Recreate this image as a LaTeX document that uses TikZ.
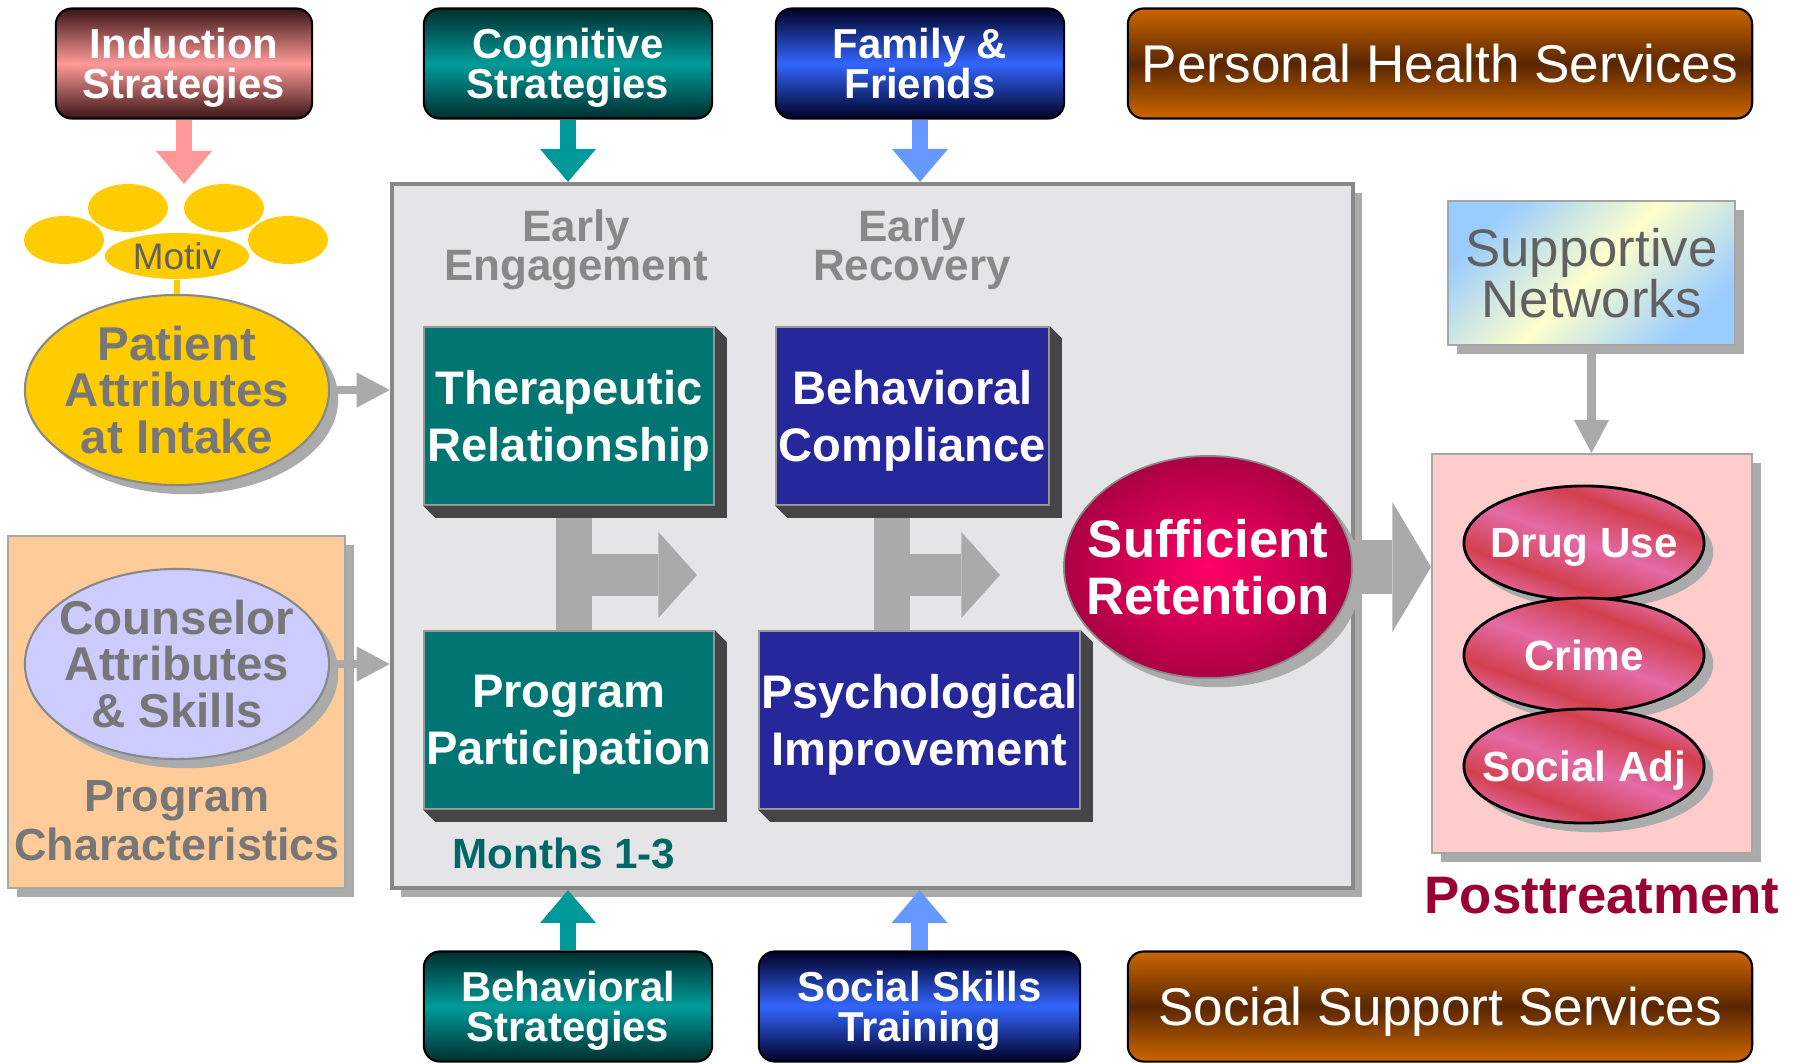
\documentclass[tikz,border=0pt]{standalone}
\usepackage{fontspec}
\setmainfont{Liberation Sans}
\usetikzlibrary{positioning,calc,shapes.geometric,shadows,arrows.meta}
\lineskiplimit=-50pt

\definecolor{inducdark}{HTML}{3A1414}
\definecolor{inducpink}{HTML}{FF9A9A}
\definecolor{tealdark}{HTML}{002E2E}
\definecolor{teallight}{HTML}{009C99}
\definecolor{bluedark}{HTML}{000024}
\definecolor{bluelight}{HTML}{3366FF}
\definecolor{svcorange}{HTML}{CC6600}
\definecolor{svcbrown}{HTML}{5A2600}
\definecolor{boxteal}{HTML}{017572}
\definecolor{boxnavy}{HTML}{27279C}
\definecolor{marble}{HTML}{E5E5E8}
\definecolor{framegray}{HTML}{888888}
\definecolor{shadowgray}{HTML}{ABABAB}
\definecolor{bevelgray}{HTML}{454545}
\definecolor{gold}{HTML}{FFCC00}
\definecolor{lilac}{HTML}{CCCCFF}
\definecolor{peach}{HTML}{FFCC99}
\definecolor{blush}{HTML}{FFCCCC}
\definecolor{postred}{HTML}{990033}
\definecolor{monthteal}{HTML}{006666}
\definecolor{graytext}{HTML}{777777}
\definecolor{earlygray}{HTML}{888888}
\definecolor{arrowpink}{HTML}{FF9999}
\definecolor{arrowteal}{HTML}{009999}
\definecolor{arrowblue}{HTML}{6699FF}
\definecolor{arrowgray}{HTML}{AAAAAA}
\definecolor{retin}{HTML}{FF0066}
\definecolor{retout}{HTML}{7A0030}
\definecolor{netyellow}{HTML}{FFFFCC}
\definecolor{netblue}{HTML}{99CCFF}
\definecolor{outpink}{HTML}{E46AA6}
\definecolor{outred}{HTML}{D2404E}

\pgfdeclarehorizontalshading{netshade}{100bp}{color(0bp)=(netblue); color(25bp)=(netblue); color(50bp)=(netyellow); color(75bp)=(netblue); color(100bp)=(netblue)}
\pgfdeclareverticalshading{outshade}{100bp}{color(0bp)=(outpink); color(25bp)=(outpink); color(35bp)=(outred); color(50bp)=(outpink); color(65bp)=(outred); color(75bp)=(outpink); color(100bp)=(outpink)}
\pgfdeclareradialshading{retshade}{\pgfpoint{0bp}{0bp}}{color(0bp)=(retin); color(40bp)=(retout); color(50bp)=(retout)}

\tikzset{
  cardbox/.style={rectangle, rounded corners=4.5pt, draw=black, line width=0.6pt, minimum width=2.88cm, minimum height=1.1cm, inner sep=0pt, text depth=0pt, align=center, text=white, font=\bfseries\fontsize{11.9}{11.4}\selectfont},
  pinkcard/.style={cardbox, top color=inducdark, bottom color=inducdark, middle color=inducpink},
  tealcard/.style={cardbox, top color=tealdark, bottom color=tealdark, middle color=teallight},
  bluecard/.style={cardbox, top color=bluedark, bottom color=bluedark, middle color=bluelight},
  svccard/.style={cardbox, minimum width=6.24cm, top color=svcorange, bottom color=svcorange, middle color=svcbrown, font=\fontsize{15.1}{18}\selectfont},
  softshadow/.style={drop shadow={shadow xshift=2.6pt, shadow yshift=-2.6pt, fill=shadowgray, opacity=1}},
  marblebox/.style={rectangle, fill=marble, draw=framegray, line width=1.1pt, minimum width=9.61cm, minimum height=7.04cm, inner sep=0pt, softshadow},
  stagelabel/.style={align=center, text=earlygray, inner sep=0pt, text depth=0pt, font=\bfseries\fontsize{12.5}{11.1}\selectfont},
  stagebox/.style={rectangle, draw=black!40, line width=0.4pt, inner sep=0pt, text depth=0pt, minimum width=2.9cm, minimum height=1.78cm, align=center, text=white, font=\bfseries\fontsize{13.4}{16.2}\selectfont},
  bevel/.style={fill=bevelgray},
  retnode/.style={ellipse, shade, shading=retshade, draw=framegray, line width=0.5pt, minimum width=2.88cm, minimum height=2.22cm, inner xsep=-6pt, inner ysep=0pt, align=center, text=white, font=\bfseries\fontsize{15}{16.2}\selectfont, softshadow},
  motivblob/.style={ellipse, fill=gold, inner sep=0pt, minimum width=0.8cm, minimum height=0.48cm},
  attrnode/.style={ellipse, draw=framegray, line width=0.6pt, minimum width=3.04cm, minimum height=1.9cm, inner xsep=-4pt, inner ysep=-2pt, align=center, text=graytext, font=\bfseries\fontsize{13.5}{13.2}\selectfont, softshadow},
  plainbox/.style={rectangle, draw=black!35, line width=0.5pt, inner sep=0pt, softshadow},
  graylabel/.style={align=center, text=graytext, inner sep=0pt, font=\bfseries\fontsize{12.8}{14}\selectfont},
  netbox/.style={rectangle, shade, shading=netshade, shading angle=-45, draw=black!35, line width=0.5pt, minimum width=2.87cm, minimum height=1.44cm, inner sep=0pt, align=center, text=black!62, font=\fontsize{15}{14.4}\selectfont, softshadow},
  outnode/.style={ellipse, shade, shading=outshade, shading angle=-20, draw=black, line width=0.8pt, minimum width=2.4cm, minimum height=1.14cm, inner xsep=-6pt, inner ysep=0pt, text depth=0pt, text=white, font=\bfseries\fontsize{12}{14}\selectfont, softshadow},
  feed/.style={line width=4.8pt, -{Triangle[width=16pt,length=9.4pt,line width=0pt]}},
  sidearrow/.style={color=arrowgray, line width=2.4pt, -{Triangle[width=10pt,length=9.4pt,line width=0pt]}},
  bigarrow/.style={color=arrowgray, line width=15.6pt, -{Triangle[width=37pt,length=11pt,line width=0pt]}},
  ebar/.style={color=arrowgray, line width=10pt},
  earrow/.style={color=arrowgray, line width=11.7pt, -{Triangle[width=24.5pt,length=11pt,line width=0pt]}}
}

\begin{document}
\begin{tikzpicture}[x=0.01cm, y=-0.01cm]
      \useasboundingbox (0,0) rectangle (1801,1063);
      \fill[white] (0,0) rectangle (1801,1063);

      \node[pinkcard, minimum width=2.56cm] (induct) at (184,63.5) {Induction\\Strategies};
      \node[tealcard] (cogn) at (568,63.5) {Cognitive\\Strategies};
      \node[bluecard] (family) at (920,63.5) {Family \&\\Friends};
      \node[svccard] (phs) at (1440,63.5) {Personal Health Services};

      \node[marblebox] (main) at (872.5,536) {};
      \node[stagelabel] (early1) at (576,245) {Early\\Engagement};
      \node[stagelabel] (early2) at (912,245) {Early\\Recovery};
      \node[stagebox, fill=boxteal] (ther) at (569,416) {Therapeutic\\Relationship};
      \node[stagebox, fill=boxnavy, minimum width=2.73cm] (beh) at (912.5,416) {Behavioral\\Compliance};
      \node[stagebox, fill=boxteal] (prog) at (569,720) {Program\\Participation};
      \node[stagebox, fill=boxnavy, minimum width=3.21cm] (psy) at (919.5,720) {Psychological\\Improvement};
      \node[font=\bfseries\fontsize{12}{14}\selectfont, text=monthteal, inner sep=0pt] (months) at (564,853) {Months 1-3};

      \coordinate (e1s) at (574,575);
      \coordinate (e1) at (697,575);
      \coordinate (e2s) at (892,575);
      \coordinate (e2) at (1000,575);
      \draw[ebar] (e1s |- ther.south) -- (e1s |- prog.north);
      \draw[ebar] (e2s |- beh.south) -- (e2s |- psy.north);
      \draw[earrow] (e1s) -- (e1);
      \draw[earrow] (e2s) -- (e2);
      \foreach \b in {ther,beh,prog,psy}
        \fill[bevel] (\b.north east) -- ++(12,12) -- ($(\b.south east)+(12,12)$)
          -- ($(\b.south west)+(12,12)$) -- (\b.south west) -- (\b.south east) -- cycle;

      \node[retnode] (ret) at (1208,567) {Sufficient\\Retention};

      \node[motivblob] (m1) at (64,240) {};
      \node[motivblob] (m2) at (128,208) {};
      \node[motivblob] (m3) at (224,208) {};
      \node[motivblob] (m4) at (288,240) {};
      \node[motivblob, minimum width=1.44cm, minimum height=0.46cm, text=black!62, font=\fontsize{10.5}{12}\selectfont] (motiv) at (177,256) {Motiv};
      \node[attrnode, fill=gold] (pat) at (177,390) {Patient\\Attributes\\at Intake};
      \draw[gold, line width=1.5pt] (motiv.south) -- (pat.north);

      \node[plainbox, fill=peach, minimum width=3.37cm, minimum height=3.52cm] (progchar) at (176.5,712) {};
      \node[attrnode, fill=lilac] (couns) at (177,664) {Counselor\\Attributes\\\& Skills};
      \node[graylabel] (pctext) at (177,821) {Program\\Characteristics};

      \node[netbox] (net) at (1591.5,273) {Supportive\\Networks};
      \node[plainbox, fill=blush, minimum width=3.2cm, minimum height=3.99cm] (post) at (1592,653.5) {};
      \node[outnode] (drug) at (1584,543) {Drug Use};
      \node[outnode] (crime) at (1584,655) {Crime};
      \node[outnode] (sadj) at (1584,766) {Social Adj};
      \node[font=\bfseries\fontsize{15}{18}\selectfont, text=postred, inner sep=0pt] (posttxt) at (1602,896) {Posttreatment};

      \node[tealcard] (behs) at (568,1006.5) {Behavioral\\Strategies};
      \node[bluecard, minimum width=3.21cm] (skill) at (919.5,1006.5) {Social Skills\\Training};
      \node[svccard] (sss) at (1440,1006.5) {Social Support Services};

      \coordinate (mtop) at (184,184);
      \begin{scope}[feed]
        \draw[arrowpink] (induct.south) -- (mtop);
        \draw[arrowteal] (cogn.south) -- (cogn.south |- main.north);
        \draw[arrowblue] (family.south) -- (family.south |- main.north);
        \draw[arrowteal] (behs.north) -- (behs.north |- main.south);
        \draw[arrowblue] (skill.north) -- (skill.north |- main.south);
      \end{scope}
      \draw[sidearrow] (pat.east) -- (pat.east -| main.west);
      \draw[sidearrow] (couns.east) -- (couns.east -| main.west);
      \draw[sidearrow] (net.south) -- (net.south |- post.north);
      \draw[bigarrow] (ret.east) -- (ret.east -| post.west);
\end{tikzpicture}
\end{document}
